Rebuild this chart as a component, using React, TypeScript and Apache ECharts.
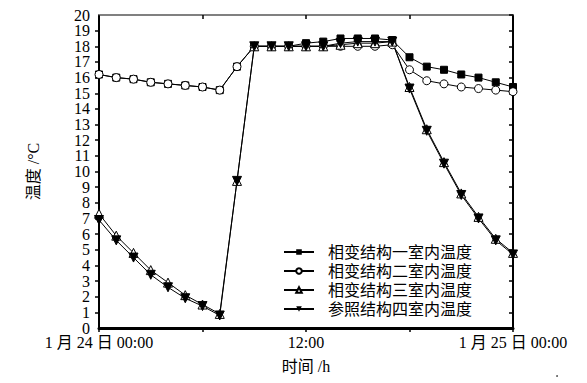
import React, { useEffect, useRef } from "react";
import * as echarts from "echarts";

const hours = [0, 1, 2, 3, 4, 5, 6, 7, 8, 9, 10, 11, 12, 13, 14, 15, 16, 17, 18, 19, 20, 21, 22, 23, 24];
const seriesNames = ["相变结构一室内温度", "相变结构二室内温度", "相变结构三室内温度", "参照结构四室内温度"];
const room1 = [16.2, 16.0, 15.9, 15.7, 15.6, 15.5, 15.4, 15.2, 16.7, 18.0, 18.0, 18.0, 18.2, 18.3, 18.5, 18.5, 18.5, 18.4, 17.3, 16.7, 16.5, 16.2, 16.0, 15.7, 15.4];
const room2 = [16.2, 16.0, 15.9, 15.7, 15.6, 15.5, 15.4, 15.2, 16.7, 18.0, 18.0, 18.0, 18.0, 18.0, 18.0, 18.0, 18.0, 18.1, 16.5, 15.8, 15.6, 15.4, 15.3, 15.2, 15.1];
const room3 = [7.3, 5.9, 4.8, 3.7, 2.9, 2.1, 1.5, 0.9, 9.4, 18.0, 18.0, 18.0, 18.0, 18.0, 18.1, 18.2, 18.2, 18.3, 15.4, 12.7, 10.6, 8.6, 7.1, 5.7, 4.8];
const room4 = [6.9, 5.6, 4.5, 3.4, 2.6, 1.9, 1.4, 0.8, 9.4, 18.0, 18.0, 18.0, 18.0, 18.0, 18.2, 18.3, 18.3, 18.3, 15.3, 12.6, 10.5, 8.5, 7.0, 5.6, 4.7];
const xTickLabels: Record<number, string> = { 0: "1 月 24 日 00:00", 12: "12:00", 24: "1 月 25 日 00:00" };

const FONT = '"Liberation Serif", "Times New Roman", "Noto Sans CJK SC", serif';

export default function App() {
  const ref = useRef<HTMLDivElement>(null);
  useEffect(() => {
    if (!ref.current) return;
    const chart = echarts.init(ref.current, undefined, { renderer: "svg" });
    const toData = (vals: number[]) => hours.map((h, i) => [h, vals[i]]);
    const base = {
      type: "line",
      lineStyle: { color: "#000", width: 1 },
      emphasis: { disabled: true },
    };
    const yLabel = {
      fontFamily: FONT,
      fontSize: 16,
      lineHeight: 10,
      color: "#000",
      margin: 9,
      hideOverlap: false,
    };
    chart.setOption({
      animation: false,
      textStyle: { fontFamily: FONT, color: "#000" },
      grid: { left: 99, top: 15, width: 414, height: 313, containLabel: false },
      legend: {
        left: 283,
        top: 244,
        padding: 0,
        orient: "vertical",
        itemWidth: 30,
        itemHeight: 7,
        itemGap: 3,
        textStyle: { fontFamily: FONT, fontSize: 16, color: "#000", padding: [0, 0, 0, 9] },
        data: seriesNames,
      },
      xAxis: [
        {
          type: "value",
          min: 0,
          max: 24,
          interval: 6,
          name: "时间 /h",
          nameLocation: "middle",
          nameGap: 30,
          nameTextStyle: { fontFamily: FONT, fontSize: 16, color: "#000" },
          axisLine: { onZero: false, lineStyle: { color: "#000", width: 3 } },
          axisTick: { show: true, length: 4, lineStyle: { color: "#000", width: 1.5 } },
          axisLabel: {
            fontFamily: FONT,
            fontSize: 16,
            lineHeight: 13,
            color: "#000",
            margin: 8,
            showMinLabel: true,
            showMaxLabel: true,
            formatter: (v: number) => xTickLabels[v] ?? "",
          },
          splitLine: { show: false },
        },
        {
          type: "value",
          position: "top",
          min: 0,
          max: 24,
          interval: 6,
          axisLine: { show: true, onZero: false, lineStyle: { color: "#808080", width: 2 } },
          axisTick: { show: true, inside: true, length: 4, lineStyle: { color: "#000", width: 1.5 } },
          axisLabel: { show: false },
          splitLine: { show: false },
        },
      ],
      yAxis: [
        {
          type: "value",
          min: 0,
          max: 20,
          interval: 1,
          name: "温度 /°C",
          nameLocation: "middle",
          nameGap: 58,
          nameTextStyle: { fontFamily: FONT, fontSize: 16, color: "#000" },
          axisLine: { show: true, onZero: false, lineStyle: { color: "#000", width: 2 } },
          axisTick: { show: true, length: 4, lineStyle: { color: "#000", width: 1.5 } },
          axisLabel: { ...yLabel, showMinLabel: false, showMaxLabel: false },
          splitLine: { show: false },
        },
        {
          type: "value",
          position: "right",
          min: 0,
          max: 20,
          interval: 1,
          axisLine: { show: true, onZero: false, lineStyle: { color: "#000", width: 2 } },
          axisTick: { show: true, inside: true, length: 4, lineStyle: { color: "#000", width: 1.5 } },
          axisLabel: { show: false },
          splitLine: { show: false },
        },
        {
          type: "value",
          position: "left",
          min: 0,
          max: 20,
          interval: 20,
          axisLine: { show: false, onZero: false },
          axisTick: { show: false },
          axisLabel: { ...yLabel, padding: [0, 0, 3, 0], showMinLabel: true, showMaxLabel: true },
          splitLine: { show: false },
        },
      ],
      series: [
        {
          ...base,
          name: seriesNames[0],
          data: toData(room1),
          symbol: "rect",
          symbolSize: 7,
          itemStyle: { color: "#000", borderColor: "#000" },
        },
        {
          ...base,
          name: seriesNames[1],
          data: toData(room2),
          symbol: "circle",
          symbolSize: 8,
          itemStyle: { color: "#fff", borderColor: "#000", borderWidth: 1 },
        },
        {
          ...base,
          name: seriesNames[2],
          data: toData(room3),
          symbol: "triangle",
          symbolSize: 9,
          itemStyle: { color: "#fff", borderColor: "#000", borderWidth: 1 },
        },
        {
          ...base,
          name: seriesNames[3],
          data: toData(room4),
          symbol: "path://M0,0 L10,0 L5,9 Z",
          symbolSize: 9,
          itemStyle: { color: "#000", borderColor: "#000" },
        },
        {
          type: "line",
          name: "frame",
          xAxisIndex: 1,
          yAxisIndex: 1,
          data: [],
          silent: true,
        },
        {
          type: "line",
          name: "frame2",
          xAxisIndex: 0,
          yAxisIndex: 2,
          data: [],
          silent: true,
        },
      ],
      graphic: [
        { type: "circle", shape: { cx: 557, cy: 376, r: 0.8 }, style: { fill: "#333" } },
      ],
    });
    return () => chart.dispose();
  }, []);
  return <div ref={ref} style={{ position: "absolute", left: 0, top: 0, width: 587, height: 383 }} />;
}
